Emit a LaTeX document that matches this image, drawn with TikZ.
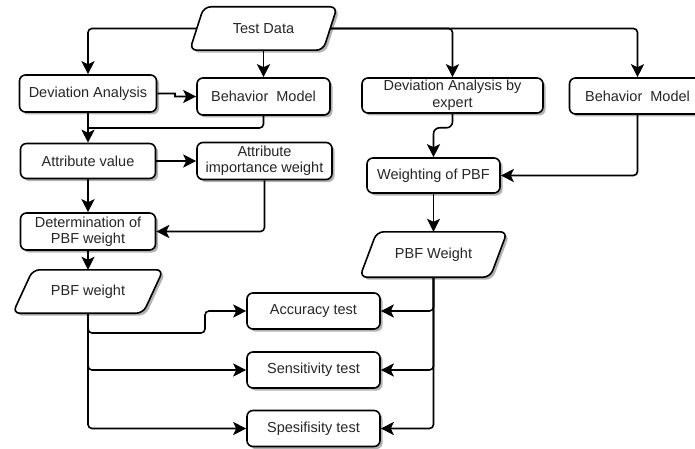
\documentclass[tikz,border=0pt]{standalone}
\usepackage{fontspec}
\setmainfont{Liberation Sans}
\usetikzlibrary{arrows.meta,shadows,backgrounds,calc}
\newcommand{\iopara}[2]{%
  \draw[iobox] (#1.south west) -- ([xshift=#2]#1.north west) -- (#1.north east) -- ([xshift=-#2]#1.south east) -- cycle;}
\begin{document}
\begin{tikzpicture}[x=1pt,y=-1pt,
  txt/.style={align=center, font=\fontsize{14.5}{16.5}\selectfont, text=black!85, inner sep=0pt},
  box/.style={txt, draw=black, line width=1.6pt, rounded corners=6pt, fill=white,
    drop shadow={shadow xshift=2.5pt, shadow yshift=-2.5pt, fill=black!30, opacity=1}},
  io/.style={txt, rectangle},
  iobox/.style={draw=black, line width=1.6pt, rounded corners=7pt, fill=white,
    drop shadow={shadow xshift=2.5pt, shadow yshift=-2.5pt, fill=black!30, opacity=1}},
  line/.style={draw=black, line width=1.6pt, rounded corners=4pt},
  arr/.style={line, -{Stealth[length=13pt, width=13pt, inset=3pt]}}
]
\useasboundingbox (0,0) rectangle (695,449);

% nodes
\node[io, minimum width=147pt, minimum height=43pt] (td) at (263.5,28.5) {Test Data};
\node[box, minimum width=137pt, minimum height=37pt] (da) at (88,93.5) {Deviation Analysis};
\node[box, minimum width=133pt, minimum height=37pt] (bm1) at (263.5,96.5) {Behavior\ \ Model};
\node[box, minimum width=181pt, minimum height=35pt] (dae) at (452.5,95.5) {Deviation Analysis by\\expert};
\node[box, minimum width=136pt, minimum height=36pt] (bm2) at (637.5,96) {Behavior\ \ Model};
\node[box, minimum width=135pt, minimum height=35pt] (av) at (88,161) {Attribute value};
\node[box, minimum width=135pt, minimum height=37pt] (aiw) at (264.5,161) {Attribute\\importance weight};
\node[box, minimum width=133pt, minimum height=35pt] (wp) at (433.5,175.5) {Weighting of PBF};
\node[box, minimum width=135pt, minimum height=37pt] (dp) at (88,231.5) {Determination of\\PBF weight};
\node[io, minimum width=147pt, minimum height=45pt] (pw2) at (433.5,254.5) {PBF Weight};
\node[io, minimum width=150pt, minimum height=43pt] (pw1) at (88,291.5) {PBF weight};
\node[box, minimum width=133pt, minimum height=36pt] (acc) at (313.5,311) {Accuracy test};
\node[box, minimum width=133pt, minimum height=36pt] (sens) at (313.5,370) {Sensitivity test};
\node[box, minimum width=133pt, minimum height=36pt] (spec) at (313.5,428.5) {Spesifisity test};

\begin{scope}[on background layer]
  \iopara{td}{14pt}
  \iopara{pw2}{17pt}
  \iopara{pw1}{20pt}
\end{scope}

\coordinate (j1) at (88,128);
\coordinate (ja) at (205,333);
\coordinate (s1) at (171,93.5);
\coordinate (s2) at (179,96.5);

% connectors
\draw[arr] ([xshift=7pt]td.west) -| (da.north);
\draw[arr] ([xshift=-7pt]td.east) -| (bm2.north);
\draw[arr] ([xshift=-7pt]td.east) -| (dae.north);
\draw[arr] (td.south) -- (bm1.north);
\draw[arr] (da.east) -- (s1) to[out=0,in=180] (s2) -- (bm1.west);
\draw[arr] (da.south) -- (av.north);
\draw[line] (bm1.south) |- (j1);
\draw[arr] (av.east) -- (aiw.west);
\draw[arr] (av.south) -- (dp.north);
\draw[arr] (aiw.south) |- (dp.east);
\draw[arr] (dp.south) -- (pw1.north);
\draw[arr] (pw1.south) |- (ja) |- (acc.west);
\draw[arr] (pw1.south) |- (sens.west);
\draw[arr] (pw1.south) |- (spec.west);
\draw[arr, rounded corners=6pt] (dae.south) -- ++(0,14) -| (wp.north);
\draw[arr] (bm2.south) |- (wp.east);
\draw[arr] (wp.south) -- (pw2.north);
\draw[arr] (pw2.south) |- (acc.east);
\draw[arr] (pw2.south) |- (sens.east);
\draw[arr] (pw2.south) |- (spec.east);
\end{tikzpicture}
\end{document}
